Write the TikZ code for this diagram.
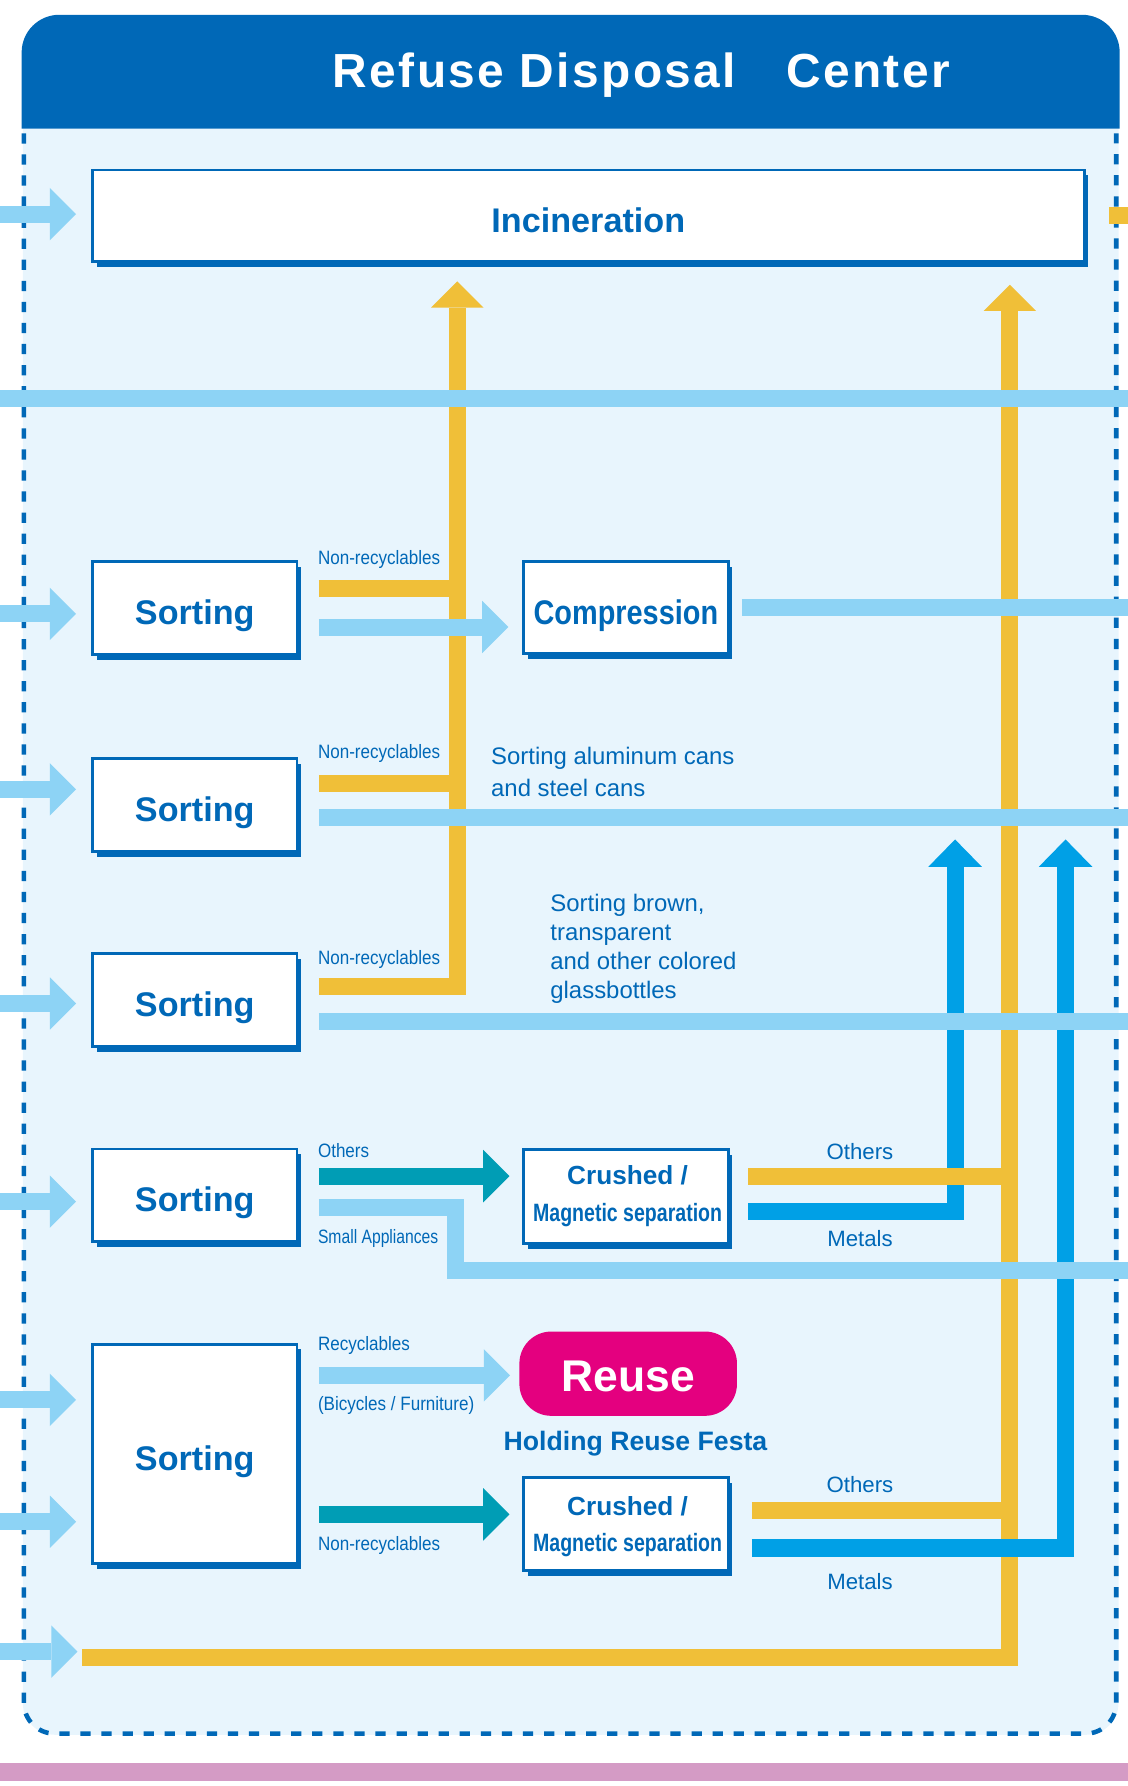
\documentclass[tikz,border=0pt]{standalone}
\usepackage{fontspec}
\setmainfont{Liberation Sans}
\newfontfamily\fT[LetterSpace=5]{Liberation Sans}
\newfontfamily\fC[FakeStretch=0.845]{Liberation Sans}
\newfontfamily\fM[FakeStretch=0.78]{Liberation Sans}
\newfontfamily\fL[FakeStretch=0.88]{Liberation Sans}
\newfontfamily\fS[FakeStretch=0.81]{Liberation Sans}
\newcommand\fsz[2]{\fontsize{#1}{#2}\selectfont}
\usetikzlibrary{arrows.meta,shadows}
\definecolor{dblue}{HTML}{0068B7}
\definecolor{bodyc}{HTML}{E8F5FD}
\definecolor{lblue}{HTML}{8DD3F5}
\definecolor{yel}{HTML}{F0BF38}
\definecolor{mblue}{HTML}{00A0E6}
\definecolor{tealc}{HTML}{009DB5}
\definecolor{magc}{HTML}{E4007F}
\definecolor{pinkc}{HTML}{D49BC5}
\tikzset{
 pipe/.style={line width=15pt, line cap=butt, line join=miter},
 lbp/.style={pipe, draw=lblue},
 ylp/.style={pipe, draw=yel},
 mbp/.style={pipe, draw=mblue},
 tlp/.style={pipe, draw=tealc},
 headA/.style={-{Triangle[length=23pt, width=46pt, line width=0pt]}},
 headM/.style={-{Triangle[length=24pt, width=47pt, line width=0pt]}},
 inarrow/.style={lbp, headA, shorten >=13.25pt},
 boxc/.style={draw=dblue, line width=2.5pt, fill=white, inner sep=0pt, text=dblue,
   font=\fsz{30}{36}\bfseries, text height=29pt, text depth=0pt,
   drop shadow={shadow xshift=3.5pt, shadow yshift=-4.5pt, fill=dblue, opacity=1}},
 sortbox/.style={boxc, minimum width=179.5pt, minimum height=81.5pt},
 lab/.style={inner sep=0pt, text=dblue, font=\fL\fsz{17}{20}, anchor=base west},
 rlab/.style={inner sep=0pt, text=dblue, font=\fsz{19.5}{24}, anchor=base},
 crt/.style={inner sep=0pt, text=dblue, anchor=base},
 para/.style={inner sep=0pt, text=dblue, align=left, anchor=north west}
}
\begin{document}
\begin{tikzpicture}[x=1pt,y=-1pt]
\useasboundingbox (0,0) rectangle (990,1568);
% background
\fill[bodyc] (20,113) -- (20,1495) arc[start angle=180,end angle=90,radius=28] -- (954,1523) arc[start angle=90,end angle=0,radius=28] -- (982,113) -- cycle;
\fill[dblue] (19,113) -- (19,46) arc[start angle=180,end angle=270,radius=33] -- (950,13) arc[start angle=270,end angle=360,radius=33] -- (983,113) -- cycle;
\draw[dblue, line width=4pt, dash pattern=on 9pt off 9.5pt] (21,117) -- (21,1495) arc[start angle=180,end angle=90,radius=27] -- (953,1522) arc[start angle=90,end angle=0,radius=27] -- (980,117);
\fill[pinkc] (0,1548) rectangle (990,1564);
\node[inner sep=0pt, text=white, font=\fT\fsz{42}{48}\bfseries, anchor=base] (title) at (563,77) {Refuse Disposal\hspace{44pt}Center};

% boxes
\node[boxc, minimum width=870.5pt, minimum height=80.5pt] (inc) at (516.5,189.5) {Incineration};
\node[sortbox] (s1) at (171,534) {Sorting};
\node[sortbox] (s2) at (171,707) {Sorting};
\node[sortbox] (s3) at (171,878) {Sorting};
\node[sortbox] (s4) at (171,1049.5) {Sorting};
\node[sortbox, minimum height=192.5pt] (s5) at (171,1276.5) {Sorting};
\node[boxc, font=\fC\fsz{30}{36}\bfseries, minimum width=179.5pt, minimum height=80.5pt] (comp) at (549.5,533.5) {Compression};
\node[boxc, minimum width=179.5pt, minimum height=82.5pt] (cr1) at (549.5,1050.5) {};
\node[boxc, minimum width=179.5pt, minimum height=81.5pt] (cr2) at (549.5,1338) {};
\node[crt, font=\fsz{23}{28}\bfseries] (cr1a) at (551,1040) {Crushed /};
\node[crt, font=\fM\fsz{22}{26}\bfseries] (cr1b) at (551,1072) {Magnetic separation};
\node[crt, font=\fsz{23}{28}\bfseries] (cr2a) at (551,1330.5) {Crushed /};
\node[crt, font=\fM\fsz{22}{26}\bfseries] (cr2b) at (551,1362) {Magnetic separation};
\node[fill=magc, rounded corners=28pt, minimum width=191pt, minimum height=74pt, inner sep=0pt, text=white, font=\fsz{39}{44}\bfseries, text height=30.8pt, text depth=0pt] (reuse) at (551.5,1206) {Reuse};
\node[inner sep=0pt, text=dblue, font=\fsz{23.4}{28}\bfseries, anchor=base west] (fest) at (442,1273) {Holding Reuse Festa};

% labels
\node[lab] (l1) at (279,496) {Non-recyclables};
\node[lab] (l2) at (279,666) {Non-recyclables};
\node[lab] (l3) at (279,847) {Non-recyclables};
\node[lab] (l4) at (279,1016.5) {Others};
\node[lab, font=\fS\fsz{17}{20}] (l5) at (279,1092) {Small Appliances};
\node[lab] (l6) at (279,1186) {Recyclables};
\node[lab] (l7) at (279,1238.5) {(Bicycles / Furniture)};
\node[lab] (l8) at (279,1361.5) {Non-recyclables};
\node[rlab] (ro1) at (755,1018) {Others};
\node[rlab] (rm1) at (755,1094) {Metals};
\node[rlab] (ro2) at (755,1310.5) {Others};
\node[rlab] (rm2) at (755,1395.5) {Metals};
\node[para, font=\fsz{21}{28}] (t1) at (431,655.8) {Sorting aluminum cans\\and steel cans};
\node[para, font=\fsz{21}{25.4}] (t2) at (483,784.8) {Sorting brown,\\transparent\\and other colored\\glassbottles};

% coordinates
\coordinate (redge) at (990,0);
\coordinate (v1top) at (401.5,247);
\coordinate (v2top) at (886.5,250);
\coordinate (ystart) at (72,1455);
\coordinate (m1top) at (838.5,737);
\coordinate (m2top) at (935.5,737);

% metal line 1 (below yellow)
\coordinate (mt1) at (657,1063.5);
\draw[mbp, headM] (mt1) -- (mt1 -| m1top) -- (m1top);

% yellow lines
\coordinate (y1) at (280,517);
\coordinate (y2) at (280,688);
\coordinate (y3) at (280,866);
\draw[ylp] (y1) -- (y1 -| v1top);
\draw[ylp] (y2) -- (y2 -| v1top);
\draw[ylp, headA] (y3) -- (y3 -| v1top) -- (v1top);
\draw[ylp, headA] (ystart) -- (ystart -| v2top) -- (v2top);
\coordinate (ot1) at (657,1032.5);
\draw[ylp] (ot1) -- (ot1 -| v2top);
\coordinate (ot2) at (660,1326);
\draw[ylp] (ot2) -- (ot2 -| v2top);
\fill[yel] (974,182) rectangle (990,197);

% metal line 2 (above yellow)
\coordinate (mt2) at (660,1359);
\draw[mbp, headM] (mt2) -- (mt2 -| m2top) -- (m2top);

% light blue lines
\coordinate (e0) at (0,188);
\coordinate (e1) at (0,539);
\coordinate (e2) at (0,693);
\coordinate (e3) at (0,881);
\coordinate (e4) at (0,1055);
\coordinate (e5) at (0,1229);
\coordinate (e6) at (0,1336);
\coordinate (e7) at (0,1450);
\draw[inarrow] (e0) -- (e0 -| inc.west);
\draw[inarrow] (e1) -- (e1 -| s1.west);
\draw[inarrow] (e2) -- (e2 -| s2.west);
\draw[inarrow] (e3) -- (e3 -| s3.west);
\draw[inarrow] (e4) -- (e4 -| s4.west);
\draw[inarrow] (e5) -- (e5 -| s5.west);
\draw[inarrow] (e6) -- (e6 -| s5.west);
\draw[lbp, headA, shorten >=4pt] (e7) -- (e7 -| ystart);
\coordinate (hA) at (0,350);
\draw[lbp] (hA) -- (hA -| redge);
\coordinate (o1) at (280,550.5);
\draw[lbp, headA, shorten >=12.25pt] (o1) -- (o1 -| comp.west);
\draw[lbp] ([xshift=10.75pt]comp.east) -- (comp.east -| redge);
\coordinate (o2) at (280,718);
\draw[lbp] (o2) -- (o2 -| redge);
\coordinate (o3) at (280,896.5);
\draw[lbp] (o3) -- (o3 -| redge);
\coordinate (o4b) at (280,1060);
\coordinate (sa) at (399.5,1115.5);
\draw[lbp] (o4b) -- (o4b -| sa) -- (sa) -- (sa -| redge);
\coordinate (o5a) at (280,1207.5);
\draw[lbp, headA, shorten >=8pt] (o5a) -- (o5a -| reuse.west);

% teal arrows
\coordinate (o4a) at (280,1032.5);
\draw[tlp, headA, shorten >=11.25pt] (o4a) -- (o4a -| cr1.west);
\coordinate (o5b) at (280,1329.5);
\draw[tlp, headA, shorten >=11.25pt] (o5b) -- (o5b -| cr2.west);
\end{tikzpicture}
\end{document}
